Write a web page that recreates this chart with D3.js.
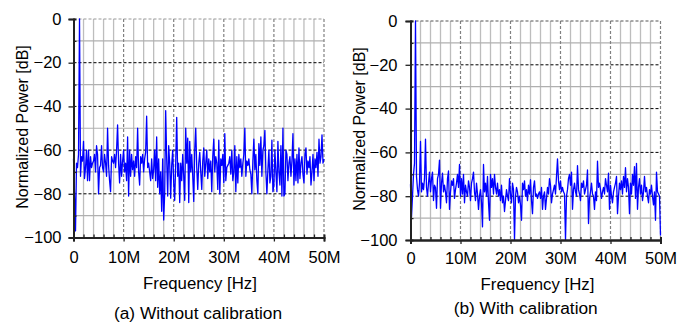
<!DOCTYPE html>
<html>
<head>
<meta charset="utf-8">
<script src="https://cdn.jsdelivr.net/npm/d3@7"></script>
<style>
  body { margin: 0; background: #fff; }
  svg text { font-family: "Liberation Sans", Arial, sans-serif; fill: #000; }
</style>
</head>
<body>
<svg id="chart" width="681" height="322"></svg>
<script>
// FFT bin spacing of both spectra, in MHz
const binWidthMHz = 0.2;

// (a) normalized power without calibration [dB], one value per bin
const powerUncal = [
  -64, -80, -97, -66, -68, -62, 0, -72, -63, -65,
  -56, -73, -68, -60, -74, -60, -74, -63, -68, -66,
  -65, -62, -70, -58, -62, -80, -68, -67, -58, -68,
  -70, -62, -66, -72, -50, -67, -74, -79, -63, -65,
  -66, -62, -68, -60, -48.5, -66, -75, -62, -72, -65,
  -60, -70, -66, -74, -54, -81, -60, -72, -62, -69,
  -65, -72, -63, -68, -50, -70, -76, -63, -66, -62,
  -70, -64, -61, -44.5, -68, -66, -70, -74, -64, -73,
  -69, -60, -74, -54, -77, -64, -80, -70, -88, -64,
  -92, -80, -42, -64, -81, -58, -66, -82, -67, -60,
  -75, -83, -66, -45, -72, -66, -84, -66, -74, -62,
  -72, -83, -50, -66, -54.5, -84, -56, -70, -62, -72,
  -83.5, -60, -50, -68, -78, -66, -61, -70, -78, -65,
  -59, -72, -66, -60, -73, -64, -70, -65, -79, -63,
  -55, -70, -63, -66, -78, -55.5, -80, -64, -67, -62,
  -75, -52.5, -74, -68, -67, -66, -63, -71, -60, -74,
  -70, -58, -79, -63, -75, -62, -68, -64, -72, -66,
  -62, -50, -72, -65, -67, -64, -69, -71, -80, -65,
  -55, -69, -62, -74, -80, -57, -67, -54, -72, -60,
  -58, -51, -70, -80, -69, -60, -75, -72, -55.5, -79,
  -76, -60, -70, -79, -56, -70, -76, -58, -81, -50,
  -81, -80, -60, -62, -74, -66, -63, -72, -65, -52.5,
  -76, -64, -74, -62, -75, -59, -73, -66, -63, -71,
  -75, -62, -59, -71, -65, -68, -63, -76, -70, -62,
  -74, -64, -68, -61, -72, -55, -66, -63, -53, -66,
  -64
];

// (b) normalized power with calibration [dB]
const powerCal = [
  -74.5, -89.5, -80, -70, -65, 0, -71, -77, -80, -74,
  -55, -78, -74, -77, -72, -54, -76, -80, -74, -69,
  -78, -72, -69, -82, -75, -76, -85.5, -72, -70, -63.5,
  -85.5, -74, -69.5, -78, -75, -78, -83, -72, -68.5, -86,
  -78, -73, -75, -72, -81, -77, -74, -70, -76, -65.5,
  -80, -72, -79, -70, -83, -75, -78, -80, -73, -76,
  -82, -74, -72, -69, -78, -82, -74, -79, -86, -80,
  -77, -83, -94, -65.5, -78, -74, -80, -71, -83, -91,
  -70, -76, -72, -79, -70, -76, -79, -74, -80, -77,
  -82, -75, -83, -80, -87, -82, -77, -80, -82, -72,
  -79, -83, -74, -77, -100, -80, -76, -78, -83, -80,
  -84, -91, -74, -77, -73, -80, -77, -82, -75, -79,
  -72.5, -82, -88, -76, -73, -80, -79, -81, -79, -78,
  -81, -76, -86, -80, -78, -86, -81, -76, -79, -72,
  -75, -83, -79, -77, -75, -79, -71, -63, -73, -77,
  -73, -78, -76, -78, -79, -100, -80, -77, -72, -70,
  -75, -69, -86, -77, -74, -78, -80, -66, -77, -79,
  -82, -74, -76, -73, -79, -77, -75, -68, -92.5, -81,
  -78, -74, -79, -80, -86, -78, -82, -64, -76, -74,
  -77, -81, -78, -76, -79, -72, -75, -78, -69.5, -86,
  -75, -80, -83, -78, -76, -74, -71, -88, -80, -74,
  -77, -73, -79, -71, -76, -67, -78, -72, -76, -88,
  -74, -79, -70, -75, -66.5, -81, -65, -86, -76, -72,
  -79, -75, -82, -78, -71, -78, -76, -80, -83, -77,
  -79, -75, -80, -84, -78, -91, -69, -78, -79, -80,
  -98
];

// tick values (MHz / dB)
const xMajorTicks = [0, 10, 20, 30, 40, 50];
const xMinorTicks = [2, 4, 6, 8, 12, 14, 16, 18, 22, 24, 26, 28, 32, 34, 36, 38, 42, 44, 46, 48];
const yMajorTicks = [0, -20, -40, -60, -80, -100];
const yMinorTicks = [-10, -30, -50, -70, -90];

const xTitle = 'Frequency [Hz]';
const yTitle = 'Normalized Power [dB]';
const captions = ['(a) Without calibration', '(b) With calibration'];

const svg = d3.select('#chart');

function drawPanel(values, caption, p) {
  const width = p.right - p.left;
  const height = p.bottom - p.top;

  const x = d3.scaleLinear().domain([0, 50]).range([0, width]);
  const y = d3.scaleLinear().domain([-100, 0]).range([height, 0]);

  const g = svg.append('g')
    .attr('transform', `translate(${p.left}, ${p.top})`);

  // minor grid
  g.selectAll('.vminor')
    .data(xMinorTicks)
    .enter().append('line')
    .attr('x1', d => x(d)).attr('x2', d => x(d))
    .attr('y1', 0).attr('y2', height)
    .attr('stroke', '#bdbdbd').attr('stroke-width', 1.3);

  g.selectAll('.hminor')
    .data(yMinorTicks)
    .enter().append('line')
    .attr('x1', 0).attr('x2', width)
    .attr('y1', d => y(d)).attr('y2', d => y(d))
    .attr('stroke', '#b0b0b0').attr('stroke-width', 1.2);

  // major grid
  g.selectAll('.vmajor')
    .data(xMajorTicks.slice(1))
    .enter().append('line')
    .attr('x1', d => x(d)).attr('x2', d => x(d))
    .attr('y1', 0).attr('y2', height)
    .attr('stroke', '#808080').attr('stroke-width', 1.2)
    .attr('stroke-dasharray', '3,2');

  g.append('line')
    .attr('x1', 0).attr('x2', width)
    .attr('y1', y(0)).attr('y2', y(0))
    .attr('stroke', p.topColor).attr('stroke-width', 1.2)
    .attr('stroke-dasharray', '3,2');

  g.selectAll('.hmajor')
    .data([-20, -40, -60, -80])
    .enter().append('line')
    .attr('x1', 0).attr('x2', width)
    .attr('y1', d => y(d)).attr('y2', d => y(d))
    .attr('stroke', '#000').attr('stroke-width', 1)
    .attr('stroke-dasharray', '3,2');

  // spectrum
  const line = d3.line()
    .x((d, i) => x(i * binWidthMHz))
    .y(d => y(d));

  g.append('path')
    .datum(values)
    .attr('fill', 'none')
    .attr('stroke', '#0000ff')
    .attr('stroke-width', 1.3)
    .attr('stroke-linejoin', 'round')
    .attr('d', line);

  // axes
  g.append('g')
    .call(d3.axisLeft(y).tickValues(yMajorTicks).tickSize(5).tickPadding(p.yPad)
      .tickFormat(d3.format('d')));
  g.append('g')
    .call(d3.axisRight(y).tickValues(yMinorTicks).tickSize(3).tickFormat(''));

  g.append('g')
    .attr('transform', `translate(0, ${height})`)
    .call(d3.axisBottom(x).tickValues(xMajorTicks).tickSize(4).tickPadding(p.xPad)
      .tickFormat(d => d === 0 ? '0' : d + 'M'));
  g.append('g')
    .attr('transform', `translate(0, ${height})`)
    .call(d3.axisTop(x).tickValues(xMinorTicks).tickSize(3).tickFormat(''));

  g.selectAll('.domain').attr('stroke', '#222').attr('stroke-width', 2);
  g.selectAll('.tick line').attr('stroke', '#222').attr('stroke-width', 1.3);
  g.selectAll('.tick text')
    .attr('font-family', '"Liberation Sans", Arial, sans-serif')
    .attr('font-size', 16.5)
    .attr('fill', '#000');

  // titles
  svg.append('text')
    .attr('transform', `translate(${p.yTitleX}, ${p.yTitleY}) rotate(-90)`)
    .attr('text-anchor', 'middle')
    .attr('font-size', 16)
    .text(yTitle);

  svg.append('text')
    .attr('x', p.xTitleX).attr('y', p.xTitleY)
    .attr('text-anchor', 'middle')
    .attr('font-size', 16.8)
    .text(xTitle);

  svg.append('text')
    .attr('x', p.capX).attr('y', p.capY)
    .attr('text-anchor', 'middle')
    .attr('font-size', 17.3)
    .text(caption);
}

drawPanel(powerUncal, captions[0], {
  left: 73.5, right: 324, top: 19, bottom: 237.5,
  yPad: 7, xPad: 10, topColor: '#9a9a9a',
  yTitleX: 27.5, yTitleY: 127,
  xTitleX: 200, xTitleY: 288.5,
  capX: 198, capY: 318.5
});

drawPanel(powerCal, captions[1], {
  left: 410.5, right: 660.5, top: 21, bottom: 240,
  yPad: 8, xPad: 8, topColor: '#555',
  yTitleX: 365, yTitleY: 129,
  xTitleX: 537.5, xTitleY: 290,
  capX: 525.7, capY: 314
});
</script>
</body>
</html>
